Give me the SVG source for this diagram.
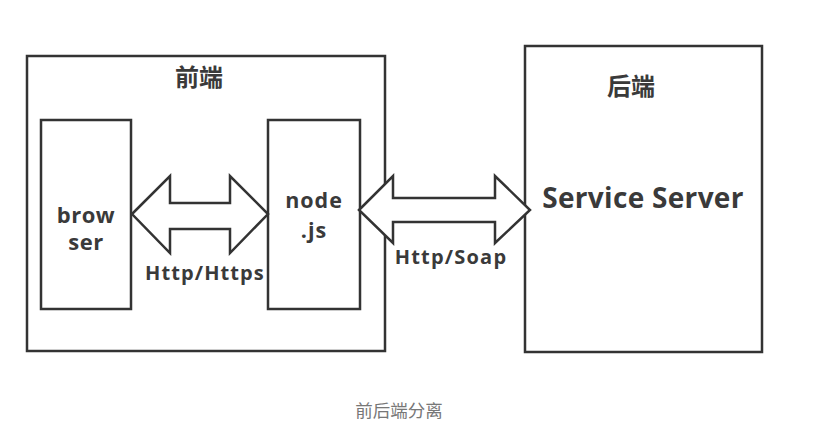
<svg xmlns="http://www.w3.org/2000/svg" width="822" height="424" viewBox="0 0 822 424">
<style>
.box{fill:#fff;stroke:#333;stroke-width:2.5}
.arr{fill:#fff;stroke:#333;stroke-width:2.5;stroke-linejoin:miter}
.t{font-family:"Open Sans","Noto Sans CJK SC",sans-serif;font-weight:bold;fill:#3a3a3a;text-anchor:middle}
.cap{font-family:"Noto Sans CJK SC",sans-serif;fill:#777;text-anchor:middle;font-size:17.5px}
</style>
<rect width="822" height="424" fill="#fff"/>
<g id="frontend">
<rect class="box" x="27" y="56" width="358" height="295"/>
<text class="t" x="199" y="86" font-size="24">前端</text>
</g>
<g id="browser">
<rect class="box" x="41" y="120" width="90" height="189"/>
<text class="t" x="86" y="223" font-size="22" letter-spacing="0.5">brow</text>
<text class="t" x="86" y="250" font-size="22" letter-spacing="0.5">ser</text>
</g>
<g id="nodejs">
<rect class="box" x="268" y="120" width="92" height="189"/>
<text class="t" x="314" y="208" font-size="21.5" letter-spacing="1">node</text>
<text class="t" x="314" y="238" font-size="21.5" letter-spacing="1">.js</text>
</g>
<g id="backend">
<rect class="box" x="525" y="46" width="237" height="306"/>
<text class="t" x="631" y="95" font-size="24">后端</text>
<text class="t" x="643" y="208" font-size="28" letter-spacing="0.3">Service Server</text>
</g>
<g id="connectors">
<polygon class="arr" points="132,214 170,176 170,203 230,203 230,176 268,214 230,253 230,229 170,229 170,253"/>
<text class="t" x="205" y="280" font-size="20" letter-spacing="1.1">Http/Https</text>
<polygon class="arr" points="359,210 393,176 393,198 495,198 495,176 530,210 495,243 495,222 393,222 393,243"/>
<text class="t" x="451" y="264" font-size="20" letter-spacing="1.2">Http/Soap</text>
</g>
<text class="cap" x="399" y="417">前后端分离</text>
</svg>
